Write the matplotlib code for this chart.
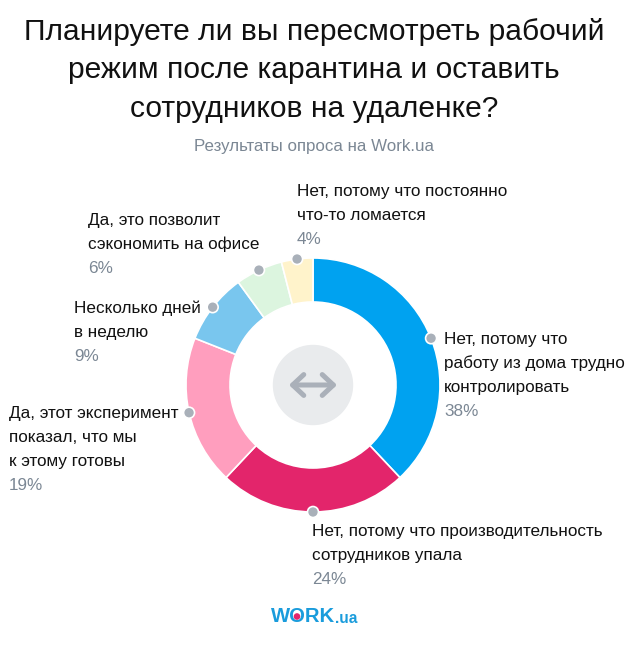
import numpy as np
import matplotlib
matplotlib.use('Agg')
import matplotlib.pyplot as plt
from matplotlib.patches import Circle

plt.rcParams['font.family'] = ['Liberation Sans', 'DejaVu Sans']

W, H = 628, 645

title_lines = ['Планируете ли вы пересмотреть рабочий',
               'режим после карантина и оставить',
               'сотрудников на удаленке?']
subtitle = 'Результаты опроса на Work.ua'

values = [38, 24, 19, 9, 6, 4]
colors = ['#00a2f0', '#e3256b', '#ff9ebe', '#79c6ee', '#dcf5df', '#fff3cb']
labels = [['Нет, потому что', 'работу из дома трудно', 'контролировать'],
          ['Нет, потому что производительность', 'сотрудников упала'],
          ['Да, этот эксперимент', 'показал, что мы', 'к этому готовы'],
          ['Несколько дней', 'в неделю'],
          ['Да, это позволит', 'сэкономить на офисе'],
          ['Нет, потому что постоянно', 'что-то ломается']]
# left edge / first baseline of every label block, in picture px
label_pos = [(444, 344), (312, 536), (9, 418), (74, 313), (88, 225), (297, 196)]

CX, CY = 313, 385
R_OUT, R_IN = 127, 83
LINE = 24

fig = plt.figure(figsize=(W / 100, H / 100), dpi=100)
ax = fig.add_axes([0, 0, 1, 1])


def py(y):
    return H - y


ax.pie(values, colors=colors, startangle=90, counterclock=False,
       center=(CX, py(CY)), radius=R_OUT, frame=True,
       wedgeprops=dict(width=R_OUT - R_IN, edgecolor='white', linewidth=1.2))

ax.set_xlim(0, W)
ax.set_ylim(0, H)
ax.set_aspect('equal')
ax.axis('off')

# centre badge with the arrow
ax.add_patch(Circle((CX, py(CY)), 39.5, color='#e9ebed', zorder=3))
ax.annotate('', xy=(CX - 24, py(CY)), xytext=(CX + 24, py(CY)), zorder=4,
            arrowprops=dict(arrowstyle='<->,head_length=0.8,head_width=0.75',
                            color='#aab0b9', lw=3.6, shrinkA=0, shrinkB=0))

# title
for i, line in enumerate(title_lines):
    ax.text(314, py(32 + i * 38.3), line, fontsize=21.6, color='#111111',
            ha='center', va='center')
ax.text(314, py(146), subtitle, fontsize=12.2, color='#7b8794',
        ha='center', va='center')

# labels and their dots
cum = np.cumsum([0] + values[:-1])
for val, start, lab, (lx, ly) in zip(values, cum, labels, label_pos):
    a = np.deg2rad((start + val / 2) * 3.6)
    ax.add_patch(Circle((CX + 127 * np.sin(a), py(CY - 127 * np.cos(a))), 5.5,
                        facecolor='#a9b0b9', edgecolor='white', lw=1.2, zorder=5))
    for j, line in enumerate(lab):
        ax.text(lx, py(ly + j * LINE), line, fontsize=12.3, color='#111111',
                ha='left', va='baseline')
    ax.text(lx, py(ly + len(lab) * LINE), f'{val}%', fontsize=12.3, color='#7b8794',
            ha='left', va='baseline')

# logo
ax.text(271, py(622), 'WORK', fontsize=14.6, fontweight='bold', color='#1a9cdc',
        ha='left', va='baseline')
ax.text(335, py(623), '.ua', fontsize=11.2, fontweight='bold', color='#1a9cdc',
        ha='left', va='baseline')
ax.add_patch(Circle((297, py(616.5)), 2.6, color='#e3256b', zorder=5))

fig.savefig('out.png', dpi=100, facecolor='white')
